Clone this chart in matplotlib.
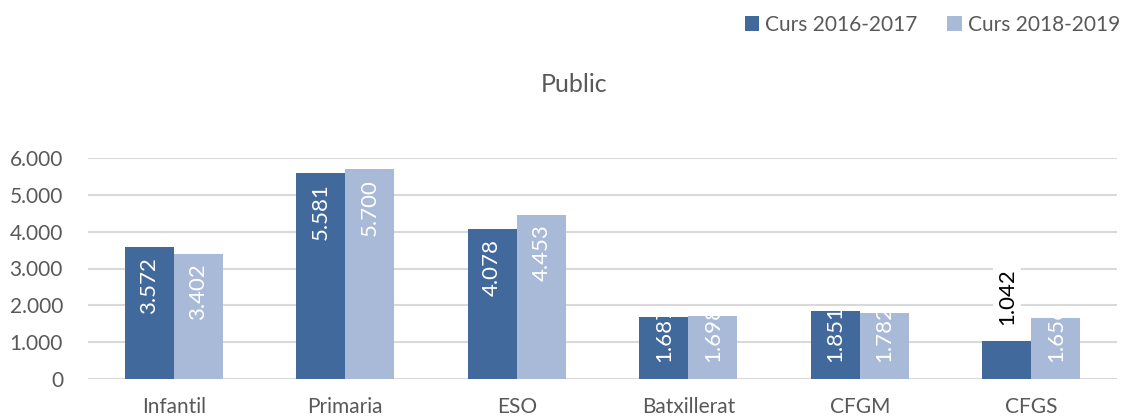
import matplotlib
matplotlib.use("Agg")
import matplotlib.pyplot as plt
import numpy as np

categories = ["Infantil", "Primaria", "ESO", "Batxillerat", "CFGM", "CFGS"]
series_names = ["Curs 2016-2017", "Curs 2018-2019"]
values_2016 = [3572, 5581, 4078, 1687, 1851, 1042]
values_2018 = [3402, 5700, 4453, 1698, 1782, 1656]
yticks = [0, 1000, 2000, 3000, 4000, 5000, 6000]
ytick_labels = ["0", "1.000", "2.000", "3.000", "4.000", "5.000", "6.000"]
title = "Public"

dark = "#41699B"
light = "#A9B9D8"
txt = "#595959"

plt.rcParams['font.family'] = ['Lato', 'DejaVu Sans']

fig = plt.figure(figsize=(11.24, 4.17), dpi=100)
ax = fig.add_axes([88/1124, 1-379/417, (1117-88)/1124, (379-158)/417])

x = np.arange(len(categories))
w = 0.286
b1 = ax.bar(x - w/2, values_2016, w, color=dark, zorder=2, label=series_names[0])
b2 = ax.bar(x + w/2, values_2018, w, color=light, zorder=2, label=series_names[1])

ax.set_xlim(-0.5, len(categories) - 0.5)
ax.set_ylim(0, 6000)
ax.set_yticks(yticks)
ax.set_yticklabels(ytick_labels, color=txt, fontsize=15)
ax.set_xticks(x)
ax.set_xticklabels(categories, color=txt, fontsize=15)
ax.tick_params(axis='y', length=0, pad=18)
ax.tick_params(axis='x', length=0, pad=13)
ax.grid(axis='y', color="#D9D9D9", linewidth=1.5, zorder=0)
for s in ax.spines.values():
    s.set_visible(False)
ax.set_axisbelow(True)

def fmt(v):
    return f"{v:,}".replace(",", ".")

for bars in (b1, b2):
    for r in bars:
        v = r.get_height()
        cx = r.get_x() + r.get_width()/2
        if v > 2400:
            t = ax.annotate(fmt(int(v)), (cx, v), xytext=(0, -7), textcoords='offset points',
                            rotation=90, ha='center', va='top', color='white', fontsize=16,
                            zorder=3, annotation_clip=False)
            t.set_clip_path(r)
        elif v > 1200:
            t = ax.annotate(fmt(int(v)), (cx, 0), xytext=(0, 12), textcoords='offset points',
                            rotation=90, ha='center', va='bottom', color='white', fontsize=16,
                            zorder=3, annotation_clip=False)
            t.set_clip_path(r)
        else:
            ax.annotate(fmt(int(v)), (cx, v), xytext=(0, 11), textcoords='offset points',
                        rotation=90, ha='center', va='bottom', color='black', fontsize=16,
                        zorder=3, bbox=dict(facecolor='white', edgecolor='none', pad=3))

fig.text(574/1124, 1-85/417, title, ha='center', va='center', color=txt, fontsize=18)

leg = fig.legend(handles=[b1, b2], labels=series_names, loc='center right',
                 bbox_to_anchor=(1120/1124, 1-25/417), ncol=2, frameon=False,
                 fontsize=15, handlelength=0.7, handleheight=0.7, handletextpad=0.3,
                 columnspacing=1.4, labelcolor=txt, borderaxespad=0, borderpad=0)

fig.savefig("out.png", dpi=100)
